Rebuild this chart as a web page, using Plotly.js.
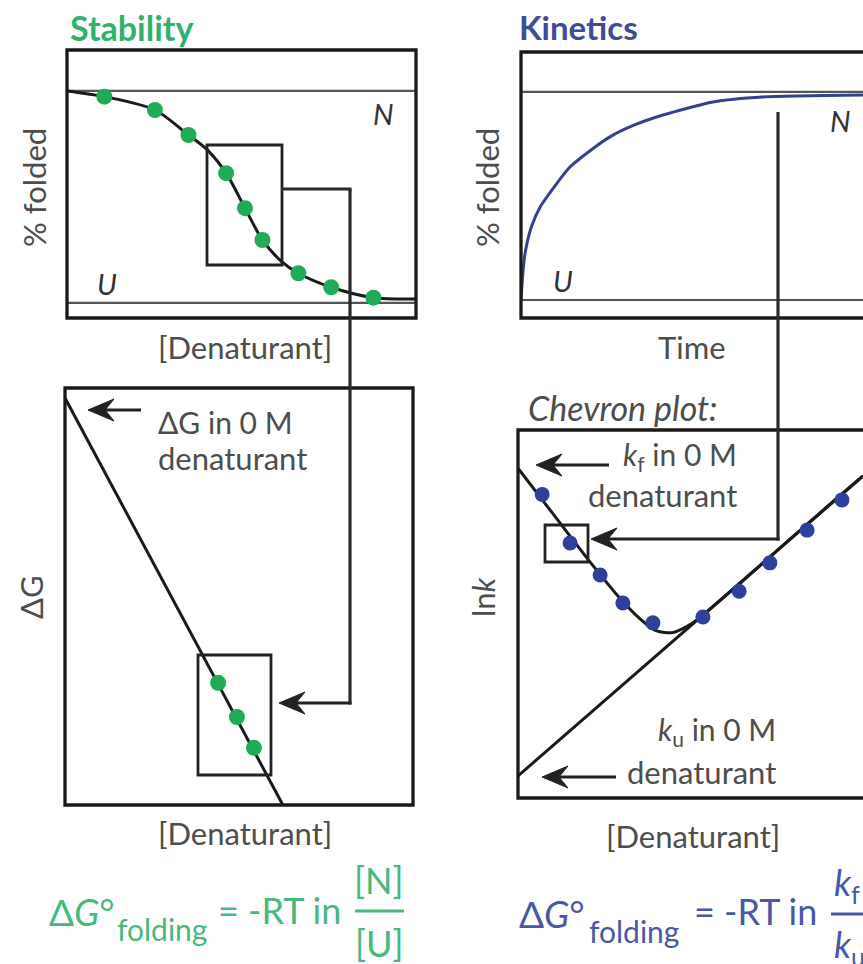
<!DOCTYPE html>
<html>
<head>
<meta charset="utf-8">
<script src="https://cdn.plot.ly/plotly-3.0.1.min.js"></script>
<style>html,body{margin:0;padding:0;background:#fff;}#chart{width:863px;height:964px;}</style>
</head>
<body>
<div id="chart"></div>
<script>
// ---- Data ----
// Stability: equilibrium denaturation curve
const stabDenaturant = [1.07, 2.52, 3.48, 4.56, 5.10, 5.60, 6.63, 7.57, 8.78];
const stabFolded     = [97.3, 91.0, 79.2, 61.2, 44.7, 29.7, 14.0, 7.4, 2.5];
const stabFitX = [0, 1.07, 2.52, 3.48, 4.02, 4.56, 5.10, 5.60, 6.15, 6.63, 7.57, 8.78, 10];
const stabFitY = [100, 97.3, 91.0, 79.2, 72.2, 61.2, 44.7, 29.7, 19.5, 14.0, 7.4, 2.5, 1.9];

// Delta G vs denaturant (linear extrapolation)
const dgLineX = [0, 6.26];
const dgLineY = [9.76, 0];
const dgDenaturant = [4.40, 4.94, 5.43];
const dgValues     = [2.93, 2.11, 1.37];

// Kinetics: folding trace
const kinTime   = [0, 0.05, 0.12, 0.3, 0.56, 1.0, 1.43, 2.0, 2.6, 3.3, 4.15, 5.61, 7.08, 10];
const kinFolded = [0, 12, 22.6, 35, 44.7, 55, 63.9, 71.5, 78.4, 84, 88.9, 95.2, 97.6, 98.5];

// Chevron plot
const chevDenaturant = [0.70, 1.51, 2.38, 3.04, 3.91, 5.36, 6.41, 7.30, 8.38, 9.39];
const chevLnk        = [8.25, 6.93, 6.06, 5.30, 4.76, 4.92, 5.62, 6.39, 7.28, 8.10];
const chevFitX = [0, 1, 2, 3, 3.5, 4, 4.5, 5, 5.5, 6, 7, 8, 9, 10];
const chevFitY = [8.96, 7.74, 6.52, 5.38, 4.90, 4.55, 4.50, 4.72, 5.08, 5.48, 6.30, 7.13, 7.95, 8.75];
const kuLineX = [0, 10];
const kuLineY = [0.60, 8.75];

// ---- Layout helpers (pixel -> paper) ----
const W = 863, H = 964;
const X = px => px / W;
const Y = py => 1 - py / H;

const GREEN = '#1fab58', GREEN_T = '#2fb36b', GREEN_EQ = '#47b97c';
const BLUE = '#2f3f9c', NAVY = '#34418f', BLUE_T = '#3d4c97', BLUE_EQ = '#4858a6';
const INK = '#1a1a1a', GRAY_T = '#4d4d4d';
const FONT = 'Lato, "Open Sans", sans-serif';

const traces = [
  {x: stabFitX, y: stabFitY, xaxis: 'x', yaxis: 'y', mode: 'lines', line: {color: INK, width: 3, shape: 'spline', smoothing: 0.8}},
  {x: stabDenaturant, y: stabFolded, xaxis: 'x', yaxis: 'y', mode: 'markers', marker: {color: GREEN, size: 16}},
  {x: kinTime, y: kinFolded, xaxis: 'x2', yaxis: 'y2', mode: 'lines', line: {color: NAVY, width: 3, shape: 'spline', smoothing: 0.6}},
  {x: dgLineX, y: dgLineY, xaxis: 'x3', yaxis: 'y3', mode: 'lines', line: {color: INK, width: 3}},
  {x: dgDenaturant, y: dgValues, xaxis: 'x3', yaxis: 'y3', mode: 'markers', marker: {color: GREEN, size: 16}},
  {x: kuLineX, y: kuLineY, xaxis: 'x4', yaxis: 'y4', mode: 'lines', line: {color: INK, width: 3}},
  {x: chevFitX, y: chevFitY, xaxis: 'x4', yaxis: 'y4', mode: 'lines', line: {color: INK, width: 3, shape: 'spline', smoothing: 0.8}},
  {x: chevDenaturant, y: chevLnk, xaxis: 'x4', yaxis: 'y4', mode: 'markers', marker: {color: BLUE, size: 15}}
];

const hid = {visible: false, fixedrange: true};
const layout = {
  width: W, height: H,
  margin: {l: 0, r: 0, t: 0, b: 0},
  paper_bgcolor: '#fff', plot_bgcolor: 'rgba(0,0,0,0)',
  showlegend: false,
  font: {family: FONT, color: GRAY_T},
  xaxis:  Object.assign({domain: [X(67), X(416)], range: [0, 10], anchor: 'y'}, hid),
  yaxis:  Object.assign({domain: [Y(318), Y(50)], range: [-7.1, 119.3], anchor: 'x'}, hid),
  xaxis2: Object.assign({domain: [X(521), 1], range: [0, 10], anchor: 'y2'}, hid),
  yaxis2: Object.assign({domain: [Y(318), Y(52)], range: [-8.65, 119.2], anchor: 'x2'}, hid),
  xaxis3: Object.assign({domain: [X(65), X(413)], range: [0, 10], anchor: 'y3'}, hid),
  yaxis3: Object.assign({domain: [Y(805), Y(388)], range: [0, 10], anchor: 'x3'}, hid),
  xaxis4: Object.assign({domain: [X(518), 1], range: [0, 10], anchor: 'y4'}, hid),
  yaxis4: Object.assign({domain: [Y(798), Y(430)], range: [0, 10], anchor: 'x4'}, hid),
  shapes: [],
  annotations: []
};

function rect(x0, y0, x1, y1, w, c) {
  layout.shapes.push({type: 'rect', xref: 'paper', yref: 'paper', x0: X(x0), x1: X(x1), y0: Y(y1), y1: Y(y0),
    line: {color: c || INK, width: w || 3.3}, fillcolor: 'rgba(0,0,0,0)'});
}
function seg(x0, y0, x1, y1, w, c) {
  layout.shapes.push({type: 'line', xref: 'paper', yref: 'paper', x0: X(x0), x1: X(x1), y0: Y(y0), y1: Y(y1),
    line: {color: c || '#2a2a2a', width: w || 3.2}});
}
// left-pointing arrow: shaft from tail to tip, filled concave head at the tip
function arrowLeft(tipX, tipY, tailX) {
  const L = 26, h = 11, n = 17;
  seg(tipX + n - 1, tipY, tailX, tipY, 3, '#222');
  const pts = [[tipX, tipY], [tipX + L, tipY - h], [tipX + n, tipY], [tipX + L, tipY + h]];
  const path = 'M ' + pts.map(p => X(p[0]) + ',' + Y(p[1])).join(' L ') + ' Z';
  layout.shapes.push({type: 'path', xref: 'paper', yref: 'paper', path: path, fillcolor: '#222', line: {color: '#222', width: 1}});
}
function txt(text, x, y, opt) {
  opt = opt || {};
  layout.annotations.push({text: text, xref: 'paper', yref: 'paper', x: X(x), y: Y(y), showarrow: false,
    xanchor: opt.xa || 'center', yanchor: opt.ya || 'middle', textangle: opt.angle || 0, align: opt.align || 'center',
    font: {family: FONT, size: opt.size || 30, color: opt.color || GRAY_T, weight: opt.weight || 'normal', style: opt.style || 'normal'}});
}

// reference lines N / U (data coordinates)
[['x', 'y'], ['x2', 'y2']].forEach(([xa, ya]) => {
  [0, 100].forEach(v => layout.shapes.push({type: 'line', xref: xa + ' domain', yref: ya, x0: 0, x1: 1, y0: v, y1: v,
    line: {color: '#555', width: 2.2}, layer: 'below'}));
});

// panel frames
rect(67, 50, 416, 318);
rect(521, 52, 900, 318);
rect(65, 388, 413, 805);
rect(518, 430, 900, 798);

// zoom boxes
rect(207, 145, 282, 265, 2.8, '#222');
rect(198, 655, 271, 775, 2.8, '#222');
rect(545, 525, 588, 562, 2.8, '#222');

// connectors
seg(282, 189, 351.5, 189);
seg(350, 189, 350, 704.5);
arrowLeft(279, 703, 351.5);
seg(778, 112, 778, 540.5);
arrowLeft(591, 539, 779.5);

// text arrows
arrowLeft(88, 410, 141);
arrowLeft(536, 465, 609);
arrowLeft(542, 777, 616);

// titles
txt('Stability', 68, 27, {xa: 'left', size: 34, weight: 'bold', color: GREEN_T});
txt('Kinetics', 517, 27, {xa: 'left', size: 33, weight: 'bold', color: BLUE_T});

// panel 1 labels
txt('% folded', 34, 188, {angle: -90, size: 31});
txt('N', 383, 113, {style: 'italic', size: 29, color: '#333'});
txt('U', 107, 283, {style: 'italic', size: 29, color: '#333'});
txt('[Denaturant]', 245, 347, {size: 31});

// panel 2 labels
txt('% folded', 487, 188, {angle: -90, size: 31});
txt('N', 840, 120, {style: 'italic', size: 29, color: '#333'});
txt('U', 563, 280, {style: 'italic', size: 29, color: '#333'});
txt('Time', 692, 347, {size: 31});

// panel 3 labels
txt('ΔG', 31, 597, {angle: -90, size: 31});
txt('ΔG in 0 M', 156, 422, {xa: 'left'});
txt('denaturant', 156, 458, {xa: 'left', size: 31});
txt('[Denaturant]', 245, 833, {size: 31});

// panel 4 labels
txt('Chevron plot:', 526, 407, {xa: 'left', style: 'italic', size: 34});
txt('<i>k</i><sub>f</sub> in 0 M', 739, 456, {xa: 'right'});
txt('denaturant', 739, 495, {xa: 'right', size: 31});
txt('<i>k</i><sub>u</sub> in 0 M', 778, 731, {xa: 'right'});
txt('denaturant', 778, 772, {xa: 'right', size: 31});
txt('ln<i>k</i>', 483, 597, {angle: -90, size: 31});
txt('[Denaturant]', 693, 836, {size: 31});

// equations
txt('Δ<i>G</i>°', 47, 911, {xa: 'left', size: 37, color: GREEN_EQ});
txt('folding', 115, 929, {xa: 'left', size: 30, color: GREEN_EQ});
txt('= -RT in', 216, 910, {xa: 'left', size: 36, color: GREEN_EQ});
txt('[N]', 379, 880, {size: 36, color: GREEN_EQ});
txt('[U]', 379, 943, {size: 36, color: GREEN_EQ});
seg(355, 911, 404, 911, 3.2, GREEN_EQ);

txt('Δ<i>G</i>°', 517, 913, {xa: 'left', size: 37, color: BLUE_EQ});
txt('folding', 587, 931, {xa: 'left', size: 30, color: BLUE_EQ});
txt('= -RT in', 692, 911, {xa: 'left', size: 36, color: BLUE_EQ});
txt('<i>k</i><sub>f</sub>', 832, 884, {xa: 'left', size: 36, color: BLUE_EQ});
txt('<i>k</i><sub>u</sub>', 832, 946, {xa: 'left', size: 36, color: BLUE_EQ});
seg(831, 914, 880, 914, 3.2, BLUE_EQ);

Plotly.newPlot('chart', traces, layout, {staticPlot: true, displayModeBar: false});
</script>
</body>
</html>
